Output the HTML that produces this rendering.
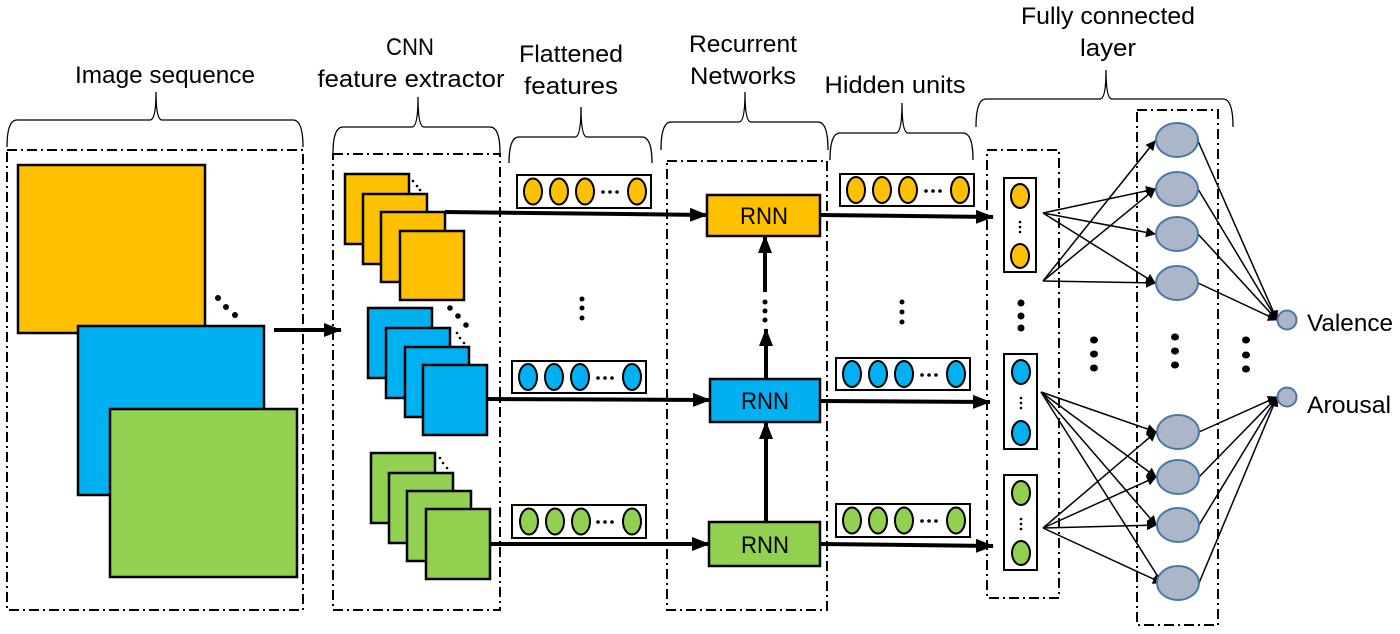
<!DOCTYPE html>
<html><head><meta charset="utf-8"><style>
html,body{margin:0;padding:0;background:#fff;}
svg{display:block;}
text{font-family:"Liberation Sans",sans-serif;fill:#000;}
</style></head><body>
<svg width="1400" height="634" viewBox="0 0 1400 634" xmlns="http://www.w3.org/2000/svg">
<defs>
<marker id="ah" markerWidth="10" markerHeight="10" refX="9" refY="5" orient="auto" markerUnits="userSpaceOnUse"><path d="M0,0 L10,5 L0,10 z" fill="#000"/></marker>
<marker id="ab" markerWidth="18" markerHeight="14" refX="17" refY="7" orient="auto" markerUnits="userSpaceOnUse"><path d="M0,0 L18,7 L0,14 z" fill="#000"/></marker>
</defs>
<g fill="none" stroke="#000" stroke-width="2" stroke-dasharray="10,4,2,4">
<rect x="7" y="150" width="296" height="460"/>
<rect x="333" y="154" width="167" height="456"/>
<rect x="667" y="161" width="160" height="449"/>
<rect x="987" y="150" width="72" height="448"/>
<rect x="1137" y="110" width="81" height="515"/>
</g>
<g fill="none" stroke="#000" stroke-width="1.3">
<path d="M7,147 Q7,120 17,120 H150 Q156,120 156,92 Q156,120 162,120 H293 Q303,120 303,147"/>
<path d="M333,153 Q333,127 343,127 H412 Q418,127 418,97 Q418,127 424,127 H490 Q500,127 500,153"/>
<path d="M509,163 Q509,137 519,137 H575 Q581,137 581,107 Q581,137 587,137 H642 Q652,137 652,163"/>
<path d="M661,150 Q661,122 671,122 H739 Q745,122 745,92 Q745,122 751,122 H818 Q828,122 828,150"/>
<path d="M830,160 Q830,133 840,133 H896 Q902,133 902,103 Q902,133 908,133 H963 Q973,133 973,160"/>
<path d="M976,127 Q976,99 986,99 H1100 Q1106,99 1106,70 Q1106,99 1112,99 H1223 Q1233,99 1233,127"/>
</g>
<g font-size="24" text-anchor="middle">
<text x="165" y="83" textLength="180" lengthAdjust="spacingAndGlyphs">Image sequence</text>
<text x="410" y="55" textLength="48" lengthAdjust="spacingAndGlyphs">CNN</text>
<text x="411" y="87" textLength="187" lengthAdjust="spacingAndGlyphs">feature extractor</text>
<text x="571" y="62" textLength="104" lengthAdjust="spacingAndGlyphs">Flattened</text>
<text x="571" y="94" textLength="94" lengthAdjust="spacingAndGlyphs">features</text>
<text x="743" y="52" textLength="108" lengthAdjust="spacingAndGlyphs">Recurrent</text>
<text x="743" y="84" textLength="106" lengthAdjust="spacingAndGlyphs">Networks</text>
<text x="895" y="93" textLength="141" lengthAdjust="spacingAndGlyphs">Hidden units</text>
<text x="1108" y="24" textLength="174" lengthAdjust="spacingAndGlyphs">Fully connected</text>
<text x="1108" y="56" textLength="56" lengthAdjust="spacingAndGlyphs">layer</text>
<text x="1307" y="331" text-anchor="start" textLength="86" lengthAdjust="spacingAndGlyphs">Valence</text>
<text x="1307" y="413" text-anchor="start" textLength="84" lengthAdjust="spacingAndGlyphs">Arousal</text>
</g>
<g stroke="#000" stroke-width="2.5">
<rect x="18" y="165" width="187" height="168" fill="#FFC000"/>
<rect x="78" y="326" width="186" height="169" fill="#00B0F0"/>
<rect x="110" y="409" width="187" height="168" fill="#92D050"/>
</g>
<g fill="#000"><circle cx="218" cy="298" r="3"/><circle cx="226" cy="307" r="3"/><circle cx="235" cy="315" r="3"/></g>
<line x1="274" y1="330" x2="341" y2="330" stroke="#000" stroke-width="4" marker-end="url(#ab)"/>
<g stroke="#000" stroke-width="2.5">
<rect x="345" y="174" width="64" height="70" fill="#FFC000"/>
<rect x="363" y="194" width="64" height="70" fill="#FFC000"/>
<rect x="381" y="212" width="64" height="70" fill="#FFC000"/>
<rect x="400" y="231" width="64" height="69" fill="#FFC000"/>
<rect x="368" y="308" width="64" height="70" fill="#00B0F0"/>
<rect x="386" y="328" width="64" height="70" fill="#00B0F0"/>
<rect x="405" y="347" width="64" height="70" fill="#00B0F0"/>
<rect x="423" y="365" width="64" height="70" fill="#00B0F0"/>
<rect x="371" y="453" width="64" height="70" fill="#92D050"/>
<rect x="389" y="473" width="64" height="70" fill="#92D050"/>
<rect x="407" y="491" width="64" height="70" fill="#92D050"/>
<rect x="426" y="509" width="64" height="70" fill="#92D050"/>
</g>
<g fill="#000">
<circle cx="413" cy="181" r="1.3"/><circle cx="417" cy="186" r="1.3"/><circle cx="420" cy="190" r="1.3"/>
<circle cx="450" cy="308" r="2.8"/><circle cx="458" cy="316" r="2.8"/><circle cx="466" cy="325" r="2.8"/>
<circle cx="457" cy="333" r="1.3"/><circle cx="460" cy="338" r="1.3"/><circle cx="464" cy="343" r="1.3"/>
<circle cx="440" cy="458" r="1.3"/><circle cx="443" cy="463" r="1.3"/><circle cx="447" cy="468" r="1.3"/>
<circle cx="582" cy="299" r="2.5"/><circle cx="582" cy="308" r="2.5"/><circle cx="582" cy="318" r="2.5"/>
<circle cx="902" cy="302" r="2.5"/><circle cx="902" cy="312" r="2.5"/><circle cx="902" cy="322" r="2.5"/>
<circle cx="765" cy="302" r="2.5"/><circle cx="765" cy="311" r="2.5"/><circle cx="765" cy="320" r="2.5"/>
<circle cx="1021" cy="303" r="3.5"/><circle cx="1021" cy="316" r="3.5"/><circle cx="1021" cy="328" r="3.5"/>
<ellipse cx="1094" cy="340" rx="4" ry="3.5"/><ellipse cx="1094" cy="354" rx="4" ry="3.5"/><ellipse cx="1094" cy="368" rx="4" ry="3.5"/>
<ellipse cx="1175" cy="337" rx="4" ry="3.5"/><ellipse cx="1175" cy="351" rx="4" ry="3.5"/><ellipse cx="1175" cy="365" rx="4" ry="3.5"/>
<ellipse cx="1246" cy="340" rx="4" ry="3.5"/><ellipse cx="1246" cy="355" rx="4" ry="3.5"/><ellipse cx="1246" cy="369" rx="4" ry="3.5"/>
</g>
<g stroke="#000" stroke-width="2">
<rect x="517" y="175" width="134" height="33" fill="#fff"/>
<ellipse cx="533" cy="191.5" rx="9" ry="13" fill="#FFC000"/><ellipse cx="559" cy="191.5" rx="9" ry="13" fill="#FFC000"/><ellipse cx="585" cy="191.5" rx="9" ry="13" fill="#FFC000"/><ellipse cx="637" cy="191.5" rx="9" ry="13" fill="#FFC000"/>
<rect x="512" y="361" width="134" height="32" fill="#fff"/>
<ellipse cx="528" cy="377" rx="9" ry="13" fill="#00B0F0"/><ellipse cx="554" cy="377" rx="9" ry="13" fill="#00B0F0"/><ellipse cx="580" cy="377" rx="9" ry="13" fill="#00B0F0"/><ellipse cx="632" cy="377" rx="9" ry="13" fill="#00B0F0"/>
<rect x="512" y="505" width="134" height="33" fill="#fff"/>
<ellipse cx="529" cy="521.5" rx="9" ry="13" fill="#92D050"/><ellipse cx="555" cy="521.5" rx="9" ry="13" fill="#92D050"/><ellipse cx="581" cy="521.5" rx="9" ry="13" fill="#92D050"/><ellipse cx="632" cy="521.5" rx="9" ry="13" fill="#92D050"/>
<rect x="840" y="174" width="134" height="32" fill="#fff"/>
<ellipse cx="856" cy="190" rx="9" ry="13" fill="#FFC000"/><ellipse cx="882" cy="190" rx="9" ry="13" fill="#FFC000"/><ellipse cx="908" cy="190" rx="9" ry="13" fill="#FFC000"/><ellipse cx="960" cy="190" rx="9" ry="13" fill="#FFC000"/>
<rect x="836" y="358" width="134" height="32" fill="#fff"/>
<ellipse cx="852" cy="374" rx="9" ry="13" fill="#00B0F0"/><ellipse cx="878" cy="374" rx="9" ry="13" fill="#00B0F0"/><ellipse cx="904" cy="374" rx="9" ry="13" fill="#00B0F0"/><ellipse cx="956" cy="374" rx="9" ry="13" fill="#00B0F0"/>
<rect x="836" y="504" width="134" height="33" fill="#fff"/>
<ellipse cx="852" cy="520.5" rx="9" ry="13" fill="#92D050"/><ellipse cx="878" cy="520.5" rx="9" ry="13" fill="#92D050"/><ellipse cx="904" cy="520.5" rx="9" ry="13" fill="#92D050"/><ellipse cx="956" cy="520.5" rx="9" ry="13" fill="#92D050"/>
</g>
<g fill="#000">
<circle cx="603" cy="192" r="1.8"/><circle cx="610" cy="192" r="1.8"/><circle cx="617" cy="192" r="1.8"/>
<circle cx="598" cy="378" r="1.8"/><circle cx="605" cy="378" r="1.8"/><circle cx="612" cy="378" r="1.8"/>
<circle cx="598" cy="522" r="1.8"/><circle cx="605" cy="522" r="1.8"/><circle cx="612" cy="522" r="1.8"/>
<circle cx="926" cy="191" r="1.8"/><circle cx="933" cy="191" r="1.8"/><circle cx="940" cy="191" r="1.8"/>
<circle cx="922" cy="375" r="1.8"/><circle cx="929" cy="375" r="1.8"/><circle cx="936" cy="375" r="1.8"/>
<circle cx="922" cy="521" r="1.8"/><circle cx="929" cy="521" r="1.8"/><circle cx="936" cy="521" r="1.8"/>
</g>
<g stroke="#000" stroke-width="4">
<line x1="445" y1="212" x2="707" y2="215" marker-end="url(#ab)"/>
<line x1="487" y1="399" x2="710" y2="400" marker-end="url(#ab)"/>
<line x1="490" y1="544" x2="709" y2="544" marker-end="url(#ab)"/>
<line x1="820" y1="215" x2="993" y2="217" marker-end="url(#ab)"/>
<line x1="820" y1="401" x2="990" y2="402" marker-end="url(#ab)"/>
<line x1="820" y1="544" x2="993" y2="546" marker-end="url(#ab)"/>
<line x1="766" y1="522" x2="766" y2="422" marker-end="url(#ab)"/>
<line x1="766" y1="379" x2="766" y2="329" marker-end="url(#ab)"/>
<line x1="765" y1="292" x2="765" y2="236" marker-end="url(#ab)"/>
</g>
<g stroke="#000" stroke-width="2.5">
<rect x="707" y="195" width="113" height="41" fill="#FFC000"/>
<rect x="710" y="379" width="110" height="43" fill="#00B0F0"/>
<rect x="709" y="522" width="111" height="44" fill="#92D050"/>
</g>
<g font-size="24" text-anchor="middle">
<text x="764" y="224" textLength="48" lengthAdjust="spacingAndGlyphs">RNN</text>
<text x="765" y="409" textLength="48" lengthAdjust="spacingAndGlyphs">RNN</text>
<text x="765" y="553" textLength="48" lengthAdjust="spacingAndGlyphs">RNN</text>
</g>
<g stroke="#000" stroke-width="2">
<rect x="1004" y="178" width="32" height="94" fill="#fff"/>
<ellipse cx="1020" cy="196" rx="9" ry="12" fill="#FFC000"/><ellipse cx="1020" cy="256" rx="9" ry="12" fill="#FFC000"/>
<rect x="1004" y="354" width="33" height="95" fill="#fff"/>
<ellipse cx="1021" cy="372" rx="9" ry="12" fill="#00B0F0"/><ellipse cx="1021" cy="433" rx="9" ry="12" fill="#00B0F0"/>
<rect x="1004" y="475" width="33" height="95" fill="#fff"/>
<ellipse cx="1021" cy="493" rx="9" ry="12" fill="#92D050"/><ellipse cx="1021" cy="553" rx="9" ry="12" fill="#92D050"/>
</g>
<g fill="#000">
<circle cx="1020" cy="222" r="1.3"/><circle cx="1020" cy="227" r="1.3"/><circle cx="1020" cy="232" r="1.3"/>
<circle cx="1021" cy="398" r="1.3"/><circle cx="1021" cy="403" r="1.3"/><circle cx="1021" cy="408" r="1.3"/>
<circle cx="1021" cy="519" r="1.3"/><circle cx="1021" cy="524" r="1.3"/><circle cx="1021" cy="529" r="1.3"/>
</g>
<g stroke="#000" stroke-width="1.5" marker-end="url(#ah)">
<line x1="1043" y1="213" x2="1155" y2="189"/>
<line x1="1043" y1="213" x2="1155" y2="234"/>
<line x1="1043" y1="213" x2="1155" y2="283"/>
<line x1="1043" y1="281" x2="1155" y2="141"/>
<line x1="1043" y1="281" x2="1155" y2="189"/>
<line x1="1043" y1="281" x2="1155" y2="283"/>
<line x1="1041" y1="392" x2="1156" y2="432"/>
<line x1="1041" y1="392" x2="1156" y2="477"/>
<line x1="1041" y1="392" x2="1156" y2="525"/>
<line x1="1041" y1="392" x2="1162" y2="583"/>
<line x1="1043" y1="528" x2="1156" y2="432"/>
<line x1="1043" y1="528" x2="1156" y2="477"/>
<line x1="1043" y1="528" x2="1156" y2="525"/>
<line x1="1043" y1="528" x2="1162" y2="583"/>
<line x1="1198" y1="141" x2="1277" y2="320"/>
<line x1="1198" y1="189" x2="1277" y2="320"/>
<line x1="1198" y1="234" x2="1277" y2="320"/>
<line x1="1198" y1="283" x2="1277" y2="320"/>
<line x1="1199" y1="432" x2="1277" y2="397"/>
<line x1="1199" y1="477" x2="1277" y2="397"/>
<line x1="1199" y1="525" x2="1277" y2="397"/>
<line x1="1199" y1="583" x2="1277" y2="397"/>
</g>
<g fill="#ABB7C9" stroke="#4A76A8" stroke-width="2">
<ellipse cx="1177" cy="140" rx="21" ry="17"/>
<ellipse cx="1177" cy="189" rx="21" ry="17"/>
<ellipse cx="1177" cy="234" rx="21" ry="17"/>
<ellipse cx="1177" cy="283" rx="21" ry="17"/>
<ellipse cx="1178" cy="432" rx="21" ry="17"/>
<ellipse cx="1178" cy="477" rx="21" ry="17"/>
<ellipse cx="1178" cy="525" rx="21" ry="17"/>
<ellipse cx="1178" cy="583" rx="21" ry="17"/>
<circle cx="1287" cy="320" r="9.5"/>
<circle cx="1287" cy="397" r="9.5"/>
</g>
</svg>
</body></html>
